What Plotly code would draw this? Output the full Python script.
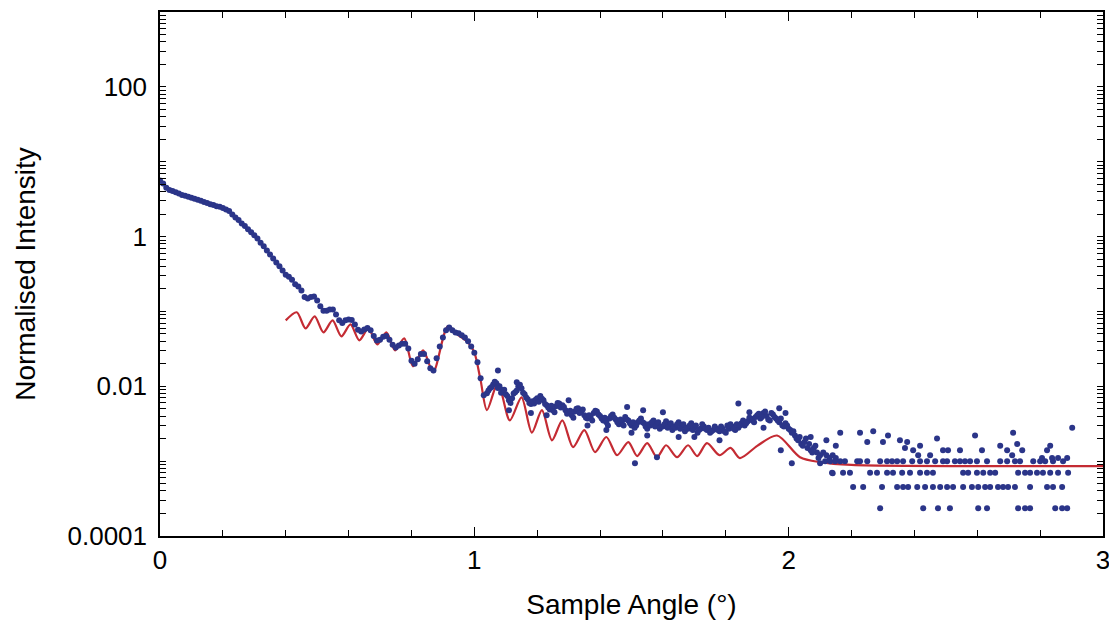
import plotly.graph_objects as go

# ---------------- data ----------------
# Measured reflectivity, steep region (0 - 0.45 deg)
angle_rise = [0.00, 0.01, 0.02, 0.03, 0.04, 0.05, 0.06, 0.07, 0.08, 0.09,
              0.10, 0.11, 0.12, 0.13, 0.14, 0.15, 0.16, 0.17, 0.18, 0.19,
              0.20, 0.21, 0.22, 0.23, 0.24, 0.25, 0.26, 0.27, 0.28, 0.29,
              0.30, 0.31, 0.32, 0.33, 0.34, 0.35, 0.36, 0.37, 0.38, 0.39,
              0.40, 0.41, 0.42, 0.43, 0.44, 0.45]
intensity_rise = [5.6, 5.1, 4.5, 4.2, 4.05, 3.9, 3.75, 3.6, 3.5, 3.4,
                  3.3, 3.2, 3.1, 3.0, 2.9, 2.8, 2.7, 2.65, 2.55, 2.5,
                  2.4, 2.3, 2.2, 1.97, 1.8, 1.66, 1.5, 1.38, 1.25, 1.14,
                  1.04, 0.94, 0.83, 0.74, 0.65, 0.575, 0.51, 0.45, 0.40, 0.352,
                  0.31, 0.29, 0.265, 0.23, 0.215, 0.19]

# Measured, fringe region (0.46 - 1.03 deg)
angle_fringe = [0.46, 0.47, 0.48, 0.49, 0.50, 0.51, 0.52, 0.53, 0.54, 0.55,
                0.56, 0.57, 0.58, 0.59, 0.60, 0.61, 0.62, 0.63, 0.64, 0.65,
                0.66, 0.67, 0.68, 0.69, 0.70, 0.71, 0.72, 0.73, 0.74, 0.75,
                0.76, 0.77, 0.78, 0.79, 0.80, 0.81, 0.82, 0.83, 0.84, 0.85,
                0.86, 0.87, 0.88, 0.89, 0.90, 0.91, 0.92, 0.93, 0.94, 0.95,
                0.96, 0.97, 0.98, 0.99, 1.00, 1.01, 1.02, 1.03]
intensity_fringe = [0.156, 0.149, 0.156, 0.158, 0.140, 0.117, 0.102, 0.102, 0.106, 0.106,
                    0.091, 0.076, 0.070, 0.076, 0.078, 0.077, 0.067, 0.057, 0.054, 0.0575,
                    0.060, 0.056, 0.047, 0.041, 0.042, 0.046, 0.047, 0.042, 0.036, 0.033,
                    0.035, 0.037, 0.037, 0.032, 0.022, 0.020, 0.023, 0.027, 0.027, 0.0216,
                    0.0174, 0.0163, 0.0236, 0.034, 0.045, 0.056, 0.061, 0.056, 0.0525, 0.051,
                    0.048, 0.045, 0.040, 0.034, 0.028, 0.021, 0.0128, 0.0076]

# Measured, high-angle region (1.04 - 2.15 deg)
angle_high = [1.04, 1.05, 1.06, 1.07, 1.08, 1.09, 1.10, 1.11, 1.12, 1.13,
              1.14, 1.15, 1.16, 1.17, 1.18, 1.19, 1.20, 1.21, 1.22, 1.23,
              1.24, 1.25, 1.26, 1.27, 1.28, 1.29, 1.30, 1.31, 1.32, 1.33,
              1.34, 1.35, 1.36, 1.37, 1.38, 1.39, 1.40, 1.41, 1.42, 1.43,
              1.44, 1.45, 1.46, 1.47, 1.48, 1.49, 1.50, 1.51, 1.52, 1.53,
              1.54, 1.55, 1.56, 1.57, 1.58, 1.59, 1.60, 1.61, 1.62, 1.63,
              1.64, 1.65, 1.66, 1.67, 1.68, 1.69, 1.70, 1.71, 1.72, 1.73,
              1.74, 1.75, 1.76, 1.77, 1.78, 1.79, 1.80, 1.81, 1.82, 1.83,
              1.84, 1.85, 1.86, 1.87, 1.88, 1.89, 1.90, 1.91, 1.92, 1.93,
              1.94, 1.95, 1.96, 1.97, 1.98, 1.99, 2.00, 2.01, 2.02, 2.03,
              2.04, 2.05, 2.06, 2.07, 2.08, 2.09, 2.10, 2.11, 2.12, 2.13,
              2.14, 2.15]
intensity_high = [0.0081, 0.0094, 0.0106, 0.0110, 0.0100, 0.0089, 0.0078, 0.0065, 0.0069, 0.0083,
                  0.0100, 0.0094, 0.0078, 0.0067, 0.0058, 0.0059, 0.0069, 0.0074, 0.0065, 0.0056,
                  0.0049, 0.0048, 0.0054, 0.0059, 0.0056, 0.0048, 0.0044, 0.0041, 0.0046, 0.0051,
                  0.0046, 0.0041, 0.0037, 0.0039, 0.0044, 0.0046, 0.0040, 0.0035, 0.0033, 0.0037,
                  0.0042, 0.0036, 0.0031, 0.0034, 0.0039, 0.0035, 0.0030, 0.0028, 0.0033, 0.0037,
                  0.0032, 0.0027, 0.0030, 0.0035, 0.0031, 0.0027, 0.0029, 0.0034, 0.0030, 0.0026,
                  0.0028, 0.0033, 0.0029, 0.0025, 0.0027, 0.0032, 0.0028, 0.0024, 0.0027, 0.0029,
                  0.0026, 0.0024, 0.0026, 0.0027, 0.0025, 0.0027, 0.0024, 0.0027, 0.0029, 0.0026,
                  0.0028, 0.0032, 0.0030, 0.0034, 0.0037, 0.0033, 0.0041, 0.0037, 0.0044, 0.0040,
                  0.0035, 0.0042, 0.0037, 0.0033, 0.0030, 0.0032, 0.0027, 0.0024, 0.0022, 0.0019,
                  0.0017, 0.0018, 0.0015, 0.0014, 0.0015, 0.0013, 0.0012, 0.0013, 0.0012, 0.0011,
                  0.0012, 0.0011]

# Interleaved measured points of the high-angle band (angle, intensity)
high_interleaved = [
    (1.045, 0.0088), (1.055, 0.0098), (1.065, 0.0115), (1.075, 0.0095), (1.085, 0.0082),
    (1.095, 0.0090), (1.105, 0.0074), (1.115, 0.0060), (1.125, 0.0080), (1.135, 0.0088),
    (1.145, 0.0105), (1.155, 0.0082), (1.165, 0.0071), (1.175, 0.0060), (1.185, 0.0063),
    (1.195, 0.0066), (1.205, 0.0062), (1.215, 0.0068), (1.225, 0.0058), (1.235, 0.0052),
    (1.245, 0.0055), (1.255, 0.0045), (1.265, 0.0060), (1.275, 0.0052), (1.285, 0.0053),
    (1.295, 0.0043), (1.305, 0.0047), (1.315, 0.0038), (1.325, 0.0050), (1.335, 0.0044),
    (1.345, 0.0049), (1.355, 0.0038), (1.365, 0.0041), (1.375, 0.0035), (1.385, 0.0047),
    (1.395, 0.0042), (1.405, 0.0037), (1.415, 0.0038), (1.425, 0.0030), (1.435, 0.0040),
    (1.445, 0.0038), (1.455, 0.0033), (1.465, 0.0036), (1.475, 0.0030), (1.485, 0.0036),
    (1.495, 0.0032), (1.505, 0.0033), (1.515, 0.0030), (1.525, 0.0035), (1.535, 0.0033),
    (1.545, 0.0029), (1.555, 0.0031), (1.565, 0.0033), (1.575, 0.0029), (1.585, 0.0033),
    (1.595, 0.0029), (1.605, 0.0031), (1.615, 0.0028), (1.625, 0.0032), (1.635, 0.0029),
    (1.645, 0.0031), (1.655, 0.0027), (1.665, 0.0031), (1.675, 0.0028), (1.685, 0.0030),
    (1.695, 0.0026), (1.705, 0.0030), (1.715, 0.0026), (1.725, 0.0031), (1.735, 0.0027),
    (1.745, 0.0028), (1.755, 0.0025), (1.765, 0.0029), (1.775, 0.0026), (1.785, 0.0029),
    (1.795, 0.0025), (1.805, 0.0030), (1.815, 0.0031), (1.825, 0.0027), (1.835, 0.0031),
    (1.845, 0.0030), (1.855, 0.0035), (1.865, 0.0032), (1.875, 0.0038), (1.885, 0.0035),
    (1.895, 0.0039), (1.905, 0.0043), (1.915, 0.0039), (1.925, 0.0046), (1.935, 0.0036),
    (1.945, 0.0044), (1.955, 0.0039), (1.965, 0.0035), (1.975, 0.0037), (1.985, 0.0029),
    (1.995, 0.0030), (2.005, 0.0026), (2.015, 0.0025), (2.025, 0.0020), (2.035, 0.0021),
    (2.045, 0.0016), (2.055, 0.0020), (2.065, 0.0017), (2.075, 0.0013), (2.085, 0.0016),
    (2.095, 0.0011),
]

# Scattered measured points above / below the main band
angle_scatter = [1.075, 1.135, 1.11, 1.18, 1.23, 1.30, 1.36, 1.42, 1.486, 1.50,
                 1.537, 1.55, 1.511, 1.581, 1.60, 1.65, 1.70, 1.78, 1.84, 1.875,
                 1.92, 1.97, 1.99, 1.975, 2.01, 2.07, 2.10, 2.12, 2.14, 2.15]
intensity_scatter = [0.0163, 0.0113, 0.0048, 0.0044, 0.0041, 0.0065, 0.0030, 0.0026, 0.0053, 0.0024,
                     0.0048, 0.0022, 0.00094, 0.00113, 0.0045, 0.0021, 0.0021, 0.0019, 0.0059, 0.0045,
                     0.0028, 0.0051, 0.0044, 0.0014, 0.00094, 0.0021, 0.00094, 0.0019, 0.00069, 0.0016]

# Tail (low count) points, 2.1 - 2.9 deg
angle_tail = [2.116, 2.132, 2.148, 2.164, 2.179, 2.218, 2.227, 2.250, 2.291, 2.313,
              2.329, 2.345, 2.364, 2.393, 2.418, 2.440, 2.466, 2.491, 2.504, 2.529,
              2.545, 2.561, 2.577, 2.599, 2.631, 2.673, 2.695, 2.720, 2.736, 2.778,
              2.800, 2.816, 2.841, 2.873,
              2.138, 2.173, 2.195, 2.259, 2.281, 2.313, 2.332, 2.361, 2.386, 2.418,
              2.440, 2.459, 2.555, 2.571, 2.599, 2.619, 2.641, 2.657, 2.730, 2.752,
              2.768, 2.790, 2.809, 2.832, 2.857, 2.889,
              2.205, 2.237, 2.297, 2.345, 2.364, 2.380, 2.409, 2.434, 2.459, 2.482,
              2.504, 2.523, 2.555, 2.583, 2.603, 2.625, 2.641, 2.666, 2.682, 2.698,
              2.720, 2.768, 2.822, 2.841, 2.870,
              2.291, 2.428, 2.475, 2.513, 2.603, 2.631, 2.730, 2.752, 2.768, 2.848,
              2.870, 2.886,
              2.164, 2.227, 2.269, 2.250, 2.300, 2.316, 2.354, 2.370, 2.377, 2.396,
              2.412, 2.418, 2.450, 2.472, 2.491, 2.507, 2.545, 2.593, 2.615, 2.673,
              2.695, 2.714, 2.727, 2.743, 2.711, 2.832, 2.822, 2.806, 2.838, 2.857,
              2.886, 2.902]
intensity_tail = [0.0010, 0.0010, 0.0010, 0.0010, 0.0010, 0.0010, 0.0010, 0.0010, 0.0010, 0.0010,
                  0.0010, 0.0010, 0.0010, 0.0010, 0.0010, 0.0010, 0.0010, 0.0010, 0.0010, 0.0010,
                  0.0010, 0.0010, 0.0010, 0.0010, 0.0010, 0.0010, 0.0010, 0.0010, 0.0010, 0.0010,
                  0.0010, 0.0010, 0.0010, 0.0010,
                  0.00070, 0.00070, 0.00070, 0.00070, 0.00070, 0.00070, 0.00070, 0.00070, 0.00070, 0.00070,
                  0.00070, 0.00070, 0.00070, 0.00070, 0.00070, 0.00070, 0.00070, 0.00070, 0.00070, 0.00070,
                  0.00070, 0.00070, 0.00070, 0.00070, 0.00070, 0.00070,
                  0.00045, 0.00045, 0.00045, 0.00045, 0.00045, 0.00045, 0.00045, 0.00045, 0.00045, 0.00045,
                  0.00045, 0.00045, 0.00045, 0.00045, 0.00045, 0.00045, 0.00045, 0.00045, 0.00045, 0.00045,
                  0.00045, 0.00045, 0.00045, 0.00045, 0.00045,
                  0.000235, 0.000235, 0.000235, 0.000235, 0.000235, 0.000235, 0.000235, 0.000235, 0.000235, 0.000235,
                  0.000235, 0.000235,
                  0.0024, 0.0024, 0.0025, 0.0018, 0.0018, 0.0022, 0.0019, 0.0015, 0.0018, 0.0014,
                  0.0012, 0.0016, 0.0012, 0.0020, 0.0014, 0.0014, 0.0014, 0.0022, 0.0014, 0.0016,
                  0.0014, 0.0024, 0.0017, 0.0014, 0.0012, 0.0016, 0.0014, 0.0011, 0.0011, 0.0011,
                  0.0011, 0.0028]

# Model fit (red line)
fit_angle = [0.40, 0.435, 0.463, 0.492, 0.520, 0.549, 0.577, 0.606, 0.634, 0.663,
             0.691, 0.720, 0.748, 0.777, 0.805, 0.837, 0.869, 0.916, 0.95, 0.98,
             1.00, 1.02, 1.04, 1.075, 1.113, 1.15, 1.183, 1.215, 1.247, 1.28,
             1.314, 1.35, 1.384, 1.42, 1.454, 1.49, 1.518, 1.55, 1.581, 1.61,
             1.645, 1.68, 1.709, 1.74, 1.78, 1.815, 1.845, 1.90, 1.963, 2.036,
             2.10, 2.20, 3.00]
fit_intensity = [0.0759, 0.0975, 0.0593, 0.0860, 0.0525, 0.0759, 0.0464, 0.0671, 0.0411, 0.0593,
                 0.0363, 0.0525, 0.0302, 0.0436, 0.0185, 0.0302, 0.0154, 0.0631, 0.0479, 0.0386,
                 0.0284, 0.0120, 0.0048, 0.0110, 0.0035, 0.0071, 0.0024, 0.0048, 0.0019, 0.0035,
                 0.00154, 0.0026, 0.00132, 0.0021, 0.0012, 0.0018, 0.00117, 0.00174, 0.00113, 0.00163,
                 0.00113, 0.00163, 0.00117, 0.00174, 0.0012, 0.0015, 0.0011, 0.0016, 0.0022, 0.00113,
                 0.00097, 0.00089, 0.00086]

y_label_vals = [1e-4, 1e-2, 1, 100]
y_label_text = ["0.0001", "0.01", "1", "100"]
x_tick_vals = [0, 1, 2, 3]
x_tick_text = ["0", "1", "2", "3"]

# ---------------- figure ----------------
BLUE = "#2B3589"
RED = "#C42B33"
FONT = "Liberation Sans, Arial, sans-serif"

meas_x = (angle_rise + angle_fringe + angle_high + [p[0] for p in high_interleaved]
          + angle_scatter + angle_tail)
meas_y = (intensity_rise + intensity_fringe + intensity_high + [p[1] for p in high_interleaved]
          + intensity_scatter + intensity_tail)

# y tick marks: every 1..9 x 10^n (log style), labelled only at the 4 decades
y_tick_positions = [m * 10.0 ** e for e in range(-4, 3) for m in range(1, 10)] + [1000.0]
y_tick_labels = []
for v in y_tick_positions:
    lab = ""
    for lv, lt in zip(y_label_vals, y_label_text):
        if abs(v - lv) <= 1e-9 * lv:
            lab = lt
    y_tick_labels.append(lab)

fig = go.Figure()
fig.add_trace(go.Scatter(
    x=fit_angle, y=fit_intensity, mode="lines",
    line=dict(color=RED, width=2.2, shape="spline", smoothing=0.8),
    showlegend=False, hoverinfo="skip"))
fig.add_trace(go.Scatter(
    x=meas_x, y=meas_y, mode="markers",
    marker=dict(color=BLUE, size=6, line=dict(width=0)),
    showlegend=False))

# page body has an 8px margin; compensate so the plot frame lands where intended
fig.update_layout(
    width=1109, height=626,
    margin=dict(l=152, r=14, t=2, b=98),
    paper_bgcolor="white", plot_bgcolor="white",
    font=dict(family=FONT, size=26, color="black"),
)
fig.update_xaxes(
    range=[0, 3], tickmode="array", tickvals=x_tick_vals, ticktext=x_tick_text,
    ticks="inside", ticklen=9, tickwidth=1.3, tickcolor="black",
    minor=dict(dtick=0.2, ticks="inside", ticklen=6, tickwidth=1.2,
               tickcolor="black", showgrid=False),
    showline=True, linecolor="black", linewidth=1.5, mirror="ticks",
    showgrid=False, zeroline=False,
    tickfont=dict(size=26),
    title=dict(text="Sample Angle (°)", font=dict(size=28), standoff=20),
)
fig.update_yaxes(
    type="log", range=[-4, 3], tickmode="array",
    tickvals=y_tick_positions, ticktext=y_tick_labels,
    ticks="inside", ticklen=6, tickwidth=1.2, tickcolor="black",
    showline=True, linecolor="black", linewidth=1.5, mirror="ticks",
    showgrid=False, zeroline=False,
    tickfont=dict(size=26), ticklabelstandoff=6,
    title=dict(text="Normalised Intensity", font=dict(size=28), standoff=24),
)

fig.write_html("out.html")
